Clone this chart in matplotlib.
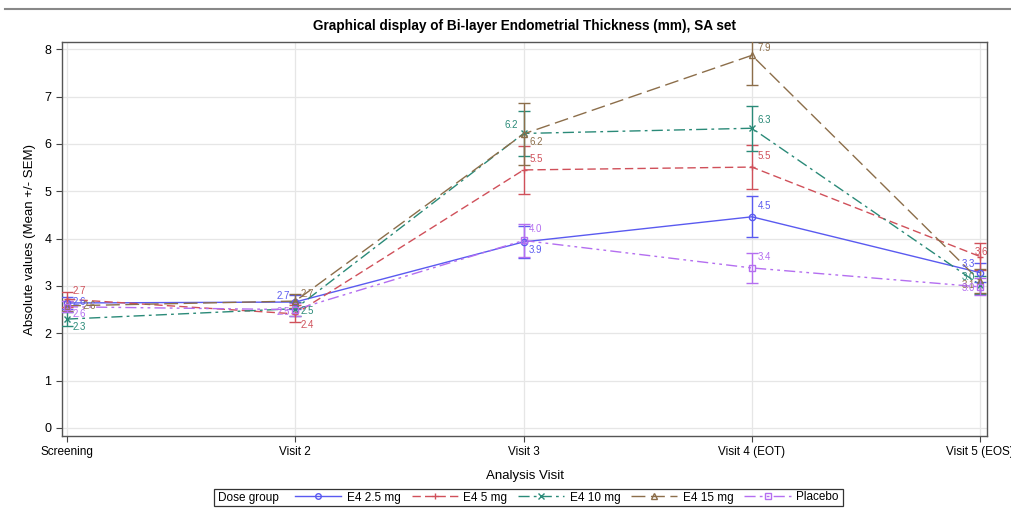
import matplotlib
matplotlib.use("Agg")
import matplotlib.pyplot as plt
from matplotlib.lines import Line2D
from matplotlib.patches import Rectangle

# ---- data -------------------------------------------------------------
visits = ["Screening", "Visit 2", "Visit 3", "Visit 4 (EOT)", "Visit 5 (EOS)"]
groups = ["E4 2.5 mg", "E4 5 mg", "E4 10 mg", "E4 15 mg", "Placebo"]

mean_e4_2_5 = [2.64, 2.66, 3.93, 4.46, 3.28]
sem_e4_2_5 = [0.12, 0.14, 0.34, 0.43, 0.20]

mean_e4_5 = [2.72, 2.41, 5.45, 5.51, 3.62]
sem_e4_5 = [0.16, 0.18, 0.50, 0.47, 0.28]

mean_e4_10 = [2.30, 2.52, 6.22, 6.33, 3.02]
sem_e4_10 = [0.15, 0.15, 0.47, 0.47, 0.20]

mean_e4_15 = [2.58, 2.68, 6.21, 7.87, 3.10]
sem_e4_15 = [0.10, 0.14, 0.65, 0.63, 0.25]

mean_placebo = [2.56, 2.50, 3.96, 3.38, 2.98]
sem_placebo = [0.12, 0.13, 0.34, 0.31, 0.18]

means = [mean_e4_2_5, mean_e4_5, mean_e4_10, mean_e4_15, mean_placebo]
sems = [sem_e4_2_5, sem_e4_5, sem_e4_10, sem_e4_15, sem_placebo]

# ---- styling ----------------------------------------------------------
plt.rcParams["font.family"] = ["Liberation Sans", "DejaVu Sans"]

colors = ["#5a5af0", "#d0505a", "#2a8a78", "#8c6e4a", "#b46ef0"]
dashes = [None, (6, 3), (8, 3, 2, 3), (10, 4), (8, 3, 2, 3, 2, 3)]
markers = ["o", "+", "x", "^", "s"]
# text offsets (points) and alignment for value labels at each visit
label_pos = [
    [(4, 1, "left"), (-4, 4, "right"), (4, -6, "left"), (4, 8, "left"), (-4, 6.5, "right")],
    [(4, 6, "left"), (4, -8, "left"), (4, 8, "left"), (4, 8, "left"), (-4, 3, "left")],
    [(4, -6, "left"), (4, -2, "left"), (-4, 6, "right"), (4, 6, "left"), (-4, 6, "right")],
    [(11, 0, "left"), (4, 5, "left"), (4, -6, "left"), (4, 5, "left"), (-4, -3, "right")],
    [(4, -5, "left"), (-4, -2, "right"), (4, 8, "left"), (4, 8, "left"), (-4, -1, "right")],
]


def line_style(i):
    return "-" if dashes[i] is None else (0, dashes[i])


def face(i):
    return "none" if markers[i] in ("o", "^", "s") else colors[i]


fig = plt.figure(figsize=(10.11, 5.13), dpi=100)
ax = fig.add_axes([0.0613, 0.150, 0.915, 0.768])

x = list(range(len(visits)))
for i, (m, s) in enumerate(zip(means, sems)):
    c = colors[i]
    ax.plot(x, m, color=c, linestyle=line_style(i), linewidth=1.0, zorder=3)
    ax.errorbar(x, m, yerr=s, fmt=markers[i], color=c, ecolor=c,
                elinewidth=1.0, capsize=4.5, capthick=1.0, markersize=4.5,
                markerfacecolor=face(i), markeredgewidth=1.0, zorder=4)
    for j, v in enumerate(m):
        dx, dy, ha = label_pos[i][j]
        ax.annotate(f"{v:.1f}", (j, v), xytext=(dx, dy), textcoords="offset points",
                    ha=ha, va="center", fontsize=7, color=c, zorder=5)

ax.set_xlim(-0.022, 4.03)
ax.set_ylim(-0.17, 8.15)
ax.set_xticks(x)
ax.set_xticklabels(visits, fontsize=8.5)
ax.set_yticks(range(0, 9))
ax.tick_params(axis="y", labelsize=9, length=4, color="#444444")
ax.tick_params(axis="x", length=4, color="#444444")
ax.grid(True, color="#e6e6e6", linewidth=0.9, zorder=0)
ax.set_axisbelow(True)
for sp in ax.spines.values():
    sp.set_color("#555555")
    sp.set_linewidth(1.0)

ax.set_xlabel("Analysis Visit", fontsize=9.5, labelpad=8)
ax.set_ylabel("Absolute values (Mean +/- SEM)", fontsize=9.5, labelpad=6)
ax.set_title("Graphical display of Bi-layer Endometrial Thickness (mm), SA set",
             fontsize=9.8, fontweight="bold", pad=9)

# legend: caption on the left, entries to its right, one shared frame
handles = [Line2D([], [], color=colors[i], linestyle=line_style(i), linewidth=1.0,
                  marker=markers[i], markersize=4, markerfacecolor=face(i),
                  label=g) for i, g in enumerate(groups)]
leg_y = 1 - 497.5 / 513
leg = fig.legend(handles=handles, loc="center left", bbox_to_anchor=(0.292, leg_y),
                 ncol=5, frameon=False, fontsize=8.5, handlelength=3.9,
                 handletextpad=0.5, columnspacing=0.9, borderpad=0.0,
                 borderaxespad=0.0)
cap = fig.text(218 / 1011, leg_y, "Dose group", fontsize=8.5, ha="left", va="center")

fig.canvas.draw()
inv = fig.transFigure.inverted()
lb = leg.get_window_extent()
(x0, _), (x1, _) = inv.transform([[lb.x0, lb.y0], [lb.x1, lb.y1]])
box_x0 = 214 / 1011
box_h = 17 / 513
fig.add_artist(Rectangle((box_x0, leg_y - box_h / 2), x1 + 4 / 1011 - box_x0, box_h,
                         transform=fig.transFigure, fill=False,
                         edgecolor="#333333", linewidth=0.9))

# page rule at the top
fig.add_artist(Line2D([0.005, 1.0], [0.983, 0.983], color="#888888",
                      linewidth=1.5, transform=fig.transFigure))

fig.savefig("out.png", dpi=100)
